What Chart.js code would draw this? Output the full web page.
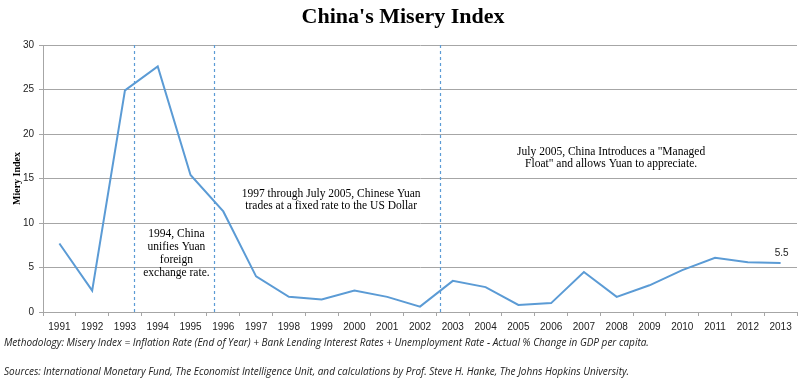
<!DOCTYPE html>
<html>
<head>
<meta charset="utf-8">
<script src="https://cdn.jsdelivr.net/npm/chart.js@4.4.1/dist/chart.umd.min.js"></script>
<style>
  html, body { margin: 0; padding: 0; background: #ffffff; }
  #wrap { width: 800px; height: 381px; position: relative; }
</style>
</head>
<body>
<div id="wrap"><canvas id="c" width="800" height="381"></canvas></div>
<script>
// ---- Data ----
const years = ["1991","1992","1993","1994","1995","1996","1997","1998","1999","2000","2001","2002","2003","2004","2005","2006","2007","2008","2009","2010","2011","2012","2013"];
const miseryIndex = [7.7, 2.4, 24.9, 27.6, 15.4, 11.3, 4.0, 1.7, 1.4, 2.4, 1.7, 0.6, 3.5, 2.8, 0.8, 1.0, 4.5, 1.7, 3.0, 4.7, 6.1, 5.6, 5.5];
const yTicks = [0, 5, 10, 15, 20, 25, 30];
// event markers (fractional year positions)
const eventYears = [1993.27, 1995.72, 2002.62];
const eventNotes = [
  ["1994, China", "unifies Yuan", "foreign", "exchange rate."],
  ["1997 through July 2005, Chinese Yuan", "trades at a fixed rate to the US Dollar"],
  ["July 2005, China Introduces a \"Managed", "Float\" and allows Yuan to appreciate."]
];
const lastLabel = "5.5";
const titleText = "China's Misery Index";
const yTitle = "Miery Index";
const footnotes = [
  "Methodology: Misery Index = Inflation Rate (End of Year) + Bank Lending Interest Rates + Unemployment Rate - Actual % Change in GDP per capita.",
  "Sources: International Monetary Fund, The Economist Intelligence Unit, and calculations by Prof. Steve H. Hanke, The Johns Hopkins University."
];

// ---- Layout for notes (data coordinates) ----
const notePlacement = [
  { x: 1994.57, y: 8.76 },
  { x: 1999.29, y: 13.26 },
  { x: 2007.83, y: 17.98 }
];

const lineColor = "#5B9BD5";
const gridColor = "#a6a6a6";

const overlay = {
  id: "overlay",
  afterDatasetsDraw(chart) {
    const ctx = chart.ctx;
    const xs = chart.scales.x, ys = chart.scales.y;
    const area = chart.chartArea;
    const first = parseInt(years[0], 10);
    ctx.save();
    // dashed event lines
    ctx.strokeStyle = lineColor;
    ctx.lineWidth = 1.2;
    ctx.setLineDash([3, 3]);
    eventYears.forEach(ey => {
      const px = Math.round(xs.getPixelForValue(ey - first)) + 0.5;
      ctx.beginPath();
      ctx.moveTo(px, area.top);
      ctx.lineTo(px, area.bottom);
      ctx.stroke();
    });
    ctx.setLineDash([]);
    // notes
    ctx.fillStyle = "#000";
    ctx.font = "11.5px 'Liberation Serif', 'Times New Roman', serif";
    ctx.textAlign = "center";
    ctx.textBaseline = "middle";
    eventNotes.forEach((lines, i) => {
      const p = notePlacement[i];
      const cx = xs.getPixelForValue(p.x - first);
      const cy = ys.getPixelForValue(p.y);
      const lh = i === 0 ? 13 : 12;
      lines.forEach((t, k) => ctx.fillText(t, cx, cy + k * lh));
    });
    // last value label
    const li = miseryIndex.length - 1;
    const lx = xs.getPixelForValue(li);
    const lyy = ys.getPixelForValue(miseryIndex[li]);
    ctx.font = "10px 'Liberation Sans', Arial, sans-serif";
    ctx.fillStyle = "#222";
    ctx.fillText(lastLabel, lx + 1, lyy - 10);
    // title
    ctx.font = "bold 22px 'Liberation Serif', 'Times New Roman', serif";
    ctx.fillStyle = "#000";
    ctx.fillText(titleText, 403, 17);
    // footnotes
    ctx.textAlign = "left";
    ctx.font = "italic 10px 'Open Sans', 'Liberation Sans', sans-serif";
    ctx.fillStyle = "#222";
    ctx.fillText(footnotes[0], 4, 343);
    ctx.fillText(footnotes[1], 4, 372);
    ctx.restore();
  }
};

new Chart(document.getElementById("c"), {
  type: "line",
  data: {
    labels: years,
    datasets: [{
      data: miseryIndex,
      borderColor: lineColor,
      borderWidth: 2,
      pointRadius: 0,
      tension: 0,
      fill: false
    }]
  },
  options: {
    responsive: false,
    animation: false,
    devicePixelRatio: 1,
    layout: { padding: { top: 45, left: 0, right: 3, bottom: 0 } },
    plugins: { legend: { display: false }, tooltip: { enabled: false }, title: { display: false } },
    scales: {
      x: {
        type: "category",
        offset: true,
        grid: { offset: true, drawOnChartArea: false, drawTicks: true, tickLength: 4, color: gridColor },
        border: { display: true, color: gridColor, width: 1 },
        ticks: {
          color: "#222",
          font: { family: "'Liberation Sans Narrow', 'Liberation Sans', Arial, sans-serif", size: 10 },
          maxRotation: 0, autoSkip: false, padding: 5
        },
        afterFit(scale) { scale.height = 69; }
      },
      y: {
        min: 0, max: 30,
        afterBuildTicks(scale) { scale.ticks = yTicks.map(v => ({ value: v })); },
        grid: { color: gridColor, drawTicks: true, tickLength: 4, lineWidth: 1 },
        border: { display: true, color: gridColor, width: 1 },
        ticks: {
          color: "#222",
          font: { family: "'Liberation Sans', Arial, sans-serif", size: 10 },
          padding: 5
        },
        title: {
          display: true, text: yTitle, color: "#000",
          font: { family: "'Liberation Serif', 'Times New Roman', serif", size: 10, weight: "bold" },
          padding: { top: 11, bottom: 2 }
        },
        afterFit(scale) { scale.width = 43; }
      }
    }
  },
  plugins: [overlay]
});
</script>
</body>
</html>
